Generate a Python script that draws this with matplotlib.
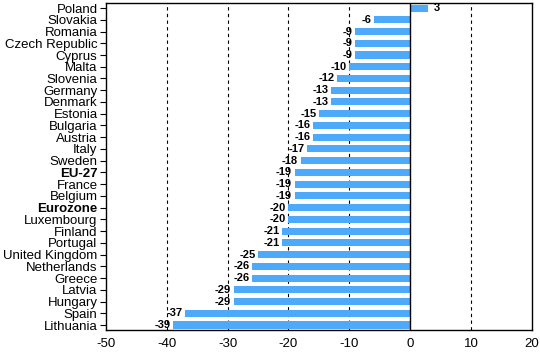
import matplotlib
matplotlib.use("Agg")
import matplotlib.pyplot as plt

categories = ["Poland", "Slovakia", "Romania", "Czech Republic", "Cyprus", "Malta",
              "Slovenia", "Germany", "Denmark", "Estonia", "Bulgaria", "Austria",
              "Italy", "Sweden", "EU-27", "France", "Belgium", "Eurozone",
              "Luxembourg", "Finland", "Portugal", "United Kingdom", "Netherlands",
              "Greece", "Latvia", "Hungary", "Spain", "Lithuania"]
values = [3, -6, -9, -9, -9, -10, -12, -13, -13, -15, -16, -16, -17, -18, -19,
          -19, -19, -20, -20, -21, -21, -25, -26, -26, -29, -29, -37, -39]
bold_labels = ["EU-27", "Eurozone"]
xticks = [-50, -40, -30, -20, -10, 0, 10, 20]

plt.rcParams['font.family'] = ['Liberation Sans', 'DejaVu Sans']

fig = plt.figure(figsize=(5.4, 3.53), dpi=100)
ax = fig.add_axes([0.196, 0.065, 0.789, 0.9265])

pos = list(range(len(categories)))
ax.barh(pos, values, height=0.6, color='#4daafb', zorder=3)

for p, v in zip(pos, values):
    if v < 0:
        ax.text(v - 0.4, p, str(v), ha='right', va='center', fontsize=8,
                fontweight='bold', zorder=4)
    else:
        ax.text(v + 0.8, p, str(v), ha='left', va='center', fontsize=8,
                fontweight='bold', zorder=4)

ax.set_xlim(-50, 20)
ax.set_ylim(len(categories) - 0.57, -0.43)
ax.set_xticks(xticks)
ax.set_xticklabels([str(t) for t in xticks], fontsize=9.5)
ax.set_yticks(pos)
ax.set_yticklabels(categories, fontsize=9.5)
for lbl in ax.get_yticklabels():
    if lbl.get_text() in bold_labels:
        lbl.set_fontweight('bold')

for t in xticks:
    if t == 0:
        ax.axvline(0, color='black', lw=1.0, zorder=5)
    elif -50 < t < 20:
        ax.axvline(t, color='black', lw=0.8, ls=(0, (3, 3)), zorder=1)

ax.tick_params(axis='x', length=0, pad=6)
ax.tick_params(axis='y', length=4, width=0.8, pad=2)
for s in ax.spines.values():
    s.set_linewidth(1.0)

fig.savefig("out.png", dpi=100)
